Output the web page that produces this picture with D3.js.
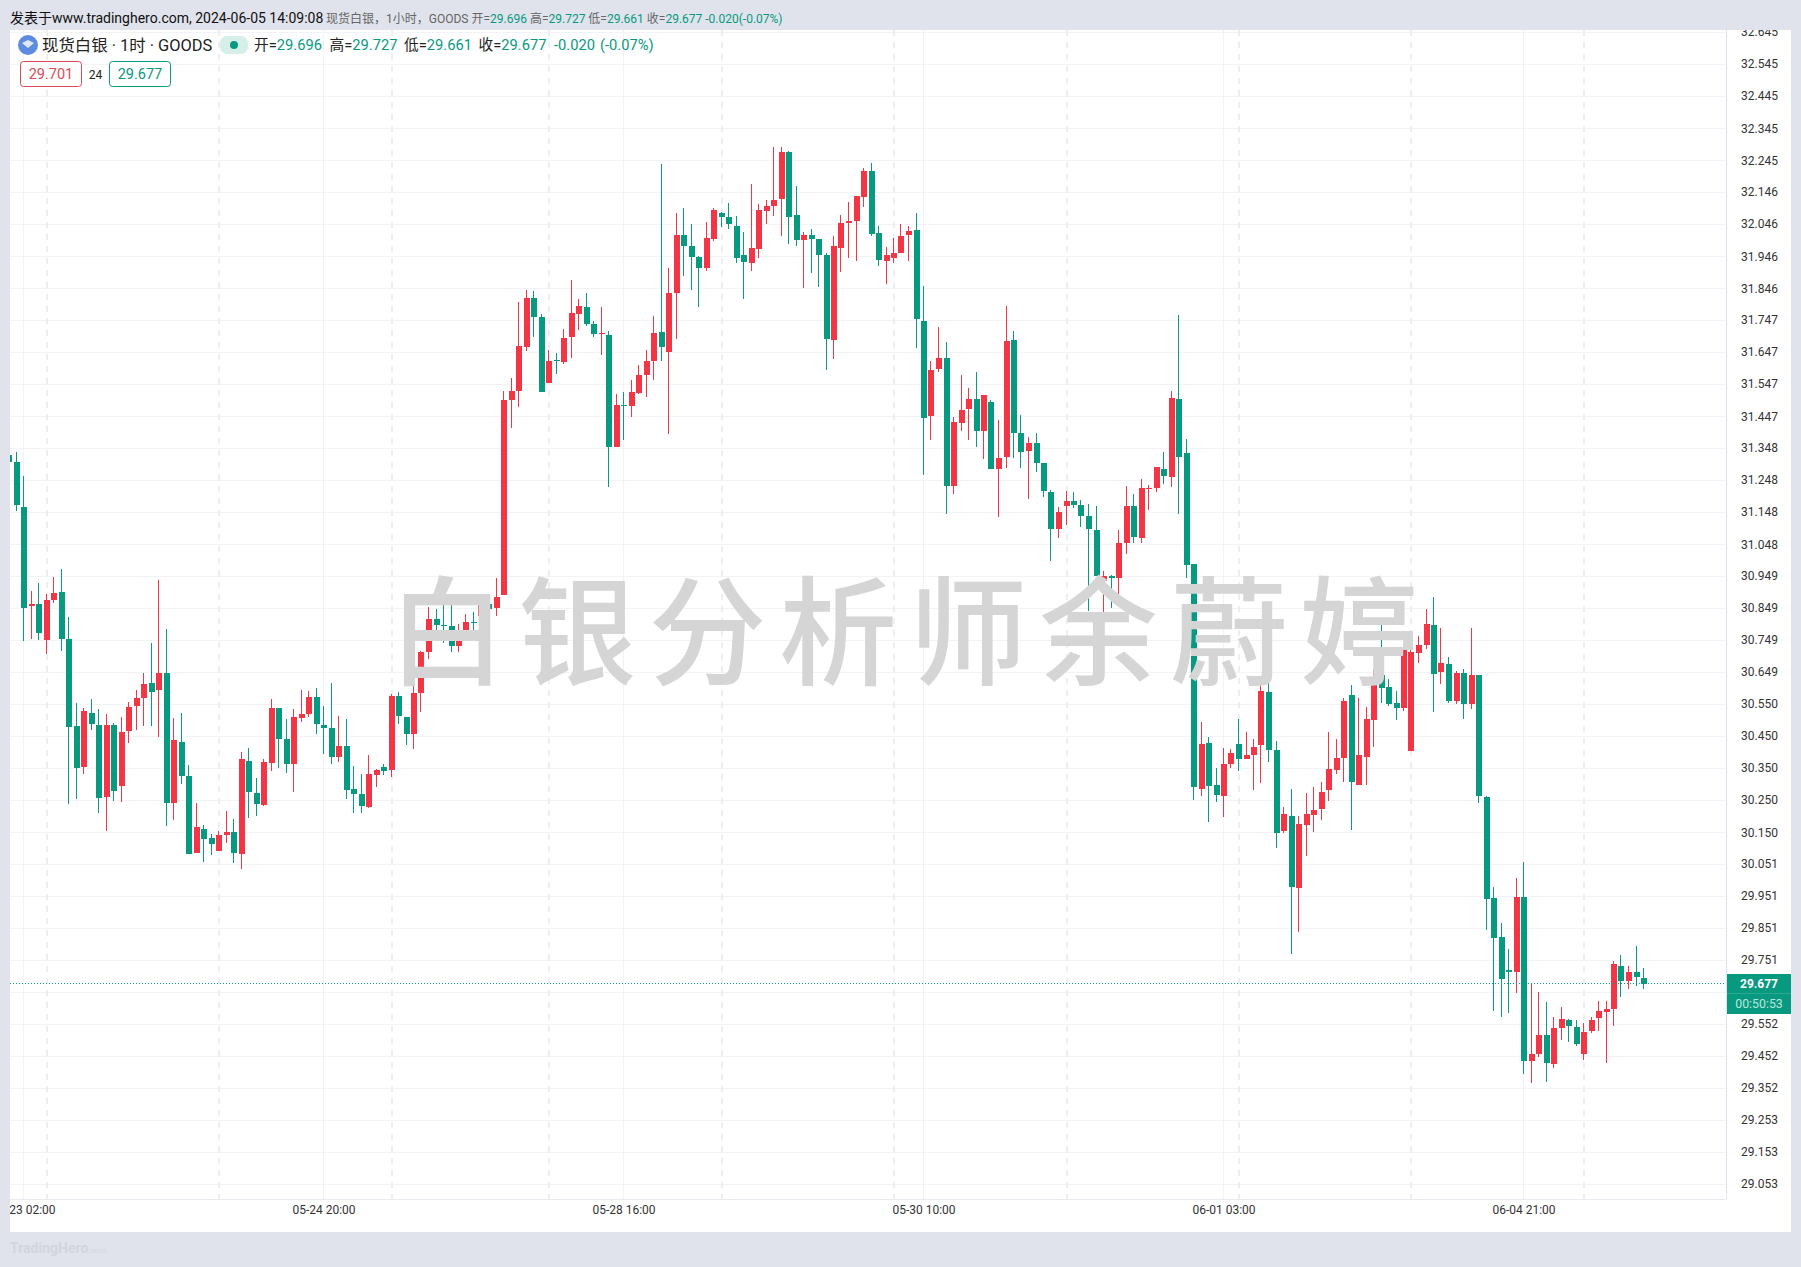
<!DOCTYPE html>
<html><head><meta charset="utf-8">
<script src="https://cdnjs.cloudflare.com/ajax/libs/d3/7.8.5/d3.min.js"></script>
<style>
html,body{margin:0;padding:0;background:#e0e3eb;overflow:hidden}
svg{display:block}
text{font-family:Roboto,"Noto Sans CJK SC",sans-serif}
</style></head><body><div id="c"></div>
<script>
const opens=[31.326,31.304,31.164,30.855,30.862,30.749,30.874,30.899,30.753,30.481,
30.353,30.522,30.484,30.260,30.484,30.294,30.466,30.544,30.569,30.615,
30.594,30.647,30.241,30.431,30.325,30.085,30.160,30.132,30.092,30.141,
30.151,30.082,30.372,30.272,30.235,30.366,30.537,30.441,30.363,30.506,
30.519,30.572,30.484,30.475,30.385,30.419,30.285,30.269,30.229,30.329,
30.353,30.344,30.575,30.509,30.456,30.585,30.713,30.815,30.796,30.793,
30.731,30.772,30.806,30.824,30.862,30.849,30.891,31.498,31.526,31.663,
31.816,31.757,31.551,31.623,31.617,31.695,31.766,31.788,31.735,31.705,
31.701,31.352,31.483,31.479,31.520,31.576,31.620,31.710,31.648,31.832,
32.013,31.978,31.944,31.910,32.000,32.081,32.069,32.041,31.950,31.925,
31.969,32.087,32.103,32.125,32.271,32.075,31.997,32.013,32.000,31.950,
31.685,31.972,32.050,32.056,32.131,32.212,32.019,31.932,31.941,31.956,
32.013,32.028,31.744,31.448,31.595,31.629,31.230,31.426,31.470,31.501,
31.402,31.492,31.283,31.320,31.685,31.395,31.339,31.364,31.302,31.211,
31.096,31.168,31.183,31.171,31.136,31.093,30.934,30.949,30.943,31.052,
31.168,31.068,31.221,31.224,31.283,31.258,31.501,31.333,30.986,30.285,
30.428,30.297,30.263,30.363,30.425,30.378,30.391,30.422,30.587,30.406,
30.154,30.200,29.976,30.172,30.204,30.222,30.282,30.344,30.381,30.578,
30.297,30.384,30.500,30.640,30.603,30.553,30.537,30.403,30.709,30.734,
30.796,30.649,30.674,30.559,30.646,30.550,30.640,30.260,29.945,29.824,
29.721,29.715,29.948,29.437,29.459,29.518,29.428,29.540,29.565,29.543,
29.459,29.531,29.571,29.590,29.599,29.733,29.687,29.715,29.696];
const highs=[31.326,31.335,31.261,30.902,30.926,30.893,30.946,30.971,30.821,30.553,
30.536,30.565,30.534,30.519,30.491,30.509,30.556,30.594,30.647,30.740,
30.937,30.784,30.506,30.522,30.360,30.241,30.173,30.145,30.154,30.216,
30.191,30.400,30.413,30.319,30.378,30.565,30.537,30.503,30.534,30.594,
30.590,30.600,30.544,30.615,30.512,30.503,30.357,30.332,30.391,30.347,
30.363,30.581,30.587,30.509,30.637,30.715,30.853,30.845,30.908,30.864,
30.799,30.831,30.837,30.866,30.884,30.943,31.526,31.567,31.804,31.841,
31.838,31.766,31.654,31.645,31.720,31.872,31.813,31.832,31.744,31.788,
31.713,31.517,31.523,31.561,31.607,31.654,31.760,32.234,31.910,32.081,
32.097,32.047,31.947,32.053,32.097,32.084,32.112,32.072,32.022,32.172,
32.109,32.122,32.287,32.287,32.275,32.165,32.022,32.031,32.000,31.956,
32.010,32.075,32.116,32.134,32.222,32.237,32.041,31.975,32.003,32.047,
32.041,32.081,31.854,31.620,31.726,31.679,31.445,31.576,31.536,31.585,
31.514,31.498,31.436,31.791,31.713,31.451,31.383,31.395,31.302,31.218,
31.165,31.214,31.211,31.186,31.174,31.168,30.965,30.953,31.093,31.230,
31.205,31.252,31.233,31.289,31.336,31.526,31.763,31.377,30.986,30.494,
30.447,30.350,30.412,30.409,30.503,30.462,30.441,30.612,30.628,30.434,
30.229,30.285,30.200,30.272,30.291,30.306,30.462,30.441,30.568,30.609,
30.568,30.540,30.656,30.796,30.628,30.590,30.721,30.740,30.762,30.846,
30.883,30.787,30.696,30.653,30.659,30.787,30.640,30.263,29.980,29.867,
29.786,30.008,30.058,29.680,29.652,29.621,29.574,29.605,29.568,29.565,
29.556,29.574,29.624,29.624,29.749,29.768,29.733,29.796,29.727];
const lows=[31.304,31.150,30.747,30.753,30.749,30.707,30.866,30.716,30.239,30.254,
30.332,30.470,30.211,30.155,30.247,30.244,30.428,30.469,30.481,30.481,
30.447,30.169,30.188,30.300,30.082,30.085,30.057,30.079,30.092,30.116,
30.054,30.035,30.194,30.201,30.232,30.341,30.350,30.335,30.275,30.494,
30.509,30.456,30.394,30.363,30.369,30.254,30.210,30.210,30.226,30.291,
30.329,30.322,30.488,30.422,30.410,30.525,30.690,30.767,30.741,30.713,
30.713,30.762,30.781,30.806,30.822,30.824,30.891,31.411,31.476,31.651,
31.695,31.523,31.551,31.579,31.610,31.629,31.716,31.729,31.695,31.638,
31.227,31.352,31.373,31.445,31.517,31.508,31.561,31.620,31.392,31.688,
31.885,31.841,31.788,31.900,31.994,32.038,32.031,31.925,31.813,31.900,
31.941,32.047,32.072,32.010,31.985,31.978,31.847,31.894,31.850,31.592,
31.626,31.897,31.941,31.932,32.100,32.010,31.916,31.860,31.925,31.956,
31.932,31.660,31.264,31.373,31.585,31.143,31.205,31.402,31.373,31.352,
31.314,31.283,31.133,31.286,31.317,31.286,31.189,31.274,31.196,30.996,
31.068,31.108,31.161,31.102,30.840,30.949,30.772,30.850,30.893,31.018,
31.052,31.052,31.155,31.211,31.236,31.227,31.143,30.943,30.250,30.263,
30.182,30.244,30.197,30.350,30.341,30.378,30.282,30.303,30.369,30.101,
30.147,29.770,29.839,30.076,30.151,30.188,30.247,30.331,30.306,30.157,
30.297,30.297,30.416,30.553,30.543,30.500,30.528,30.403,30.677,30.721,
30.525,30.612,30.553,30.550,30.503,30.534,30.241,29.845,29.593,29.574,
29.587,29.649,29.397,29.369,29.450,29.372,29.415,29.503,29.496,29.484,
29.440,29.524,29.531,29.431,29.546,29.637,29.662,29.671,29.661];
const closes=[31.304,31.171,30.850,30.862,30.772,30.874,30.896,30.753,30.479,30.350,
30.528,30.488,30.257,30.484,30.279,30.463,30.541,30.569,30.612,30.587,
30.647,30.241,30.438,30.325,30.082,30.166,30.129,30.113,30.141,30.151,
30.085,30.378,30.275,30.238,30.369,30.537,30.441,30.363,30.509,30.519,
30.572,30.488,30.475,30.385,30.419,30.282,30.269,30.232,30.332,30.344,
30.341,30.575,30.512,30.456,30.584,30.713,30.815,30.796,30.793,30.731,
30.753,30.806,30.802,30.864,30.846,30.884,31.498,31.526,31.667,31.816,
31.757,31.523,31.620,31.618,31.691,31.769,31.791,31.735,31.704,31.707,
31.352,31.483,31.479,31.523,31.576,31.620,31.707,31.663,31.832,32.013,
31.978,31.944,31.910,32.003,32.091,32.069,32.047,31.941,31.928,31.972,
32.091,32.103,32.122,32.271,32.069,31.997,32.013,32.000,31.950,31.688,
31.978,32.050,32.056,32.134,32.212,32.016,31.935,31.950,31.956,32.010,
32.025,31.751,31.442,31.592,31.629,31.230,31.430,31.467,31.501,31.402,
31.514,31.283,31.317,31.682,31.395,31.336,31.364,31.302,31.214,31.096,
31.149,31.183,31.171,31.136,31.096,30.949,30.949,30.944,31.052,31.168,
31.071,31.224,31.224,31.289,31.261,31.504,31.320,30.984,30.291,30.425,
30.294,30.266,30.363,30.397,30.378,30.391,30.416,30.590,30.406,30.147,
30.207,29.979,30.176,30.207,30.219,30.275,30.347,30.381,30.559,30.306,
30.391,30.503,30.618,30.600,30.550,30.537,30.718,30.712,30.734,30.799,
30.643,30.677,30.559,30.646,30.550,30.640,30.263,29.942,29.821,29.693,
29.715,29.948,29.437,29.459,29.518,29.431,29.540,29.568,29.546,29.490,
29.528,29.565,29.593,29.599,29.740,29.687,29.715,29.699,29.677];
const priceTicks=[32.645,32.545,32.445,32.345,32.245,32.146,32.046,31.946,31.846,31.747,31.647,31.547,31.447,31.348,31.248,31.148,31.048,30.949,30.849,30.749,30.649,30.550,30.450,30.350,30.250,30.150,30.051,29.951,29.851,29.751,29.652,29.552,29.452,29.352,29.253,29.153,29.053];
const hiddenLabel=29.652;
const timeTickIdx=[2,42,82,122,162,202];
const timeTickLabels=["05-23 02:00","05-24 20:00","05-28 16:00","05-30 10:00","06-01 03:00","06-04 21:00"];
const sessionIdx=[5,28,51,72,95,118,141,164,187,210];
const lastPrice=29.677, countdown="00:50:53";
const watermark="白银分析师余蔚婷";
const headLeft="发表于www.tradinghero.com, 2024-06-05 14:09:08";
const headInfo="现货白银，1小时，GOODS";
const ohlcLabels=["开=","高=","低=","收="];
const ohlcVals=["29.696","29.727","29.661","29.677"];
const changeTxt=["-0.020","(-0.07%)"];
const UP="#f23645",DOWN="#089981",GRID="#f2f3f6",TEXT="#333";
const W=1801,H=1267,pL=10,pT=30,pR=1726,pB=1199,wR=1791,wB=1232;
const x=d3.scaleLinear().domain([0,218]).range([9.5,1644.5]);
const y=d3.scaleLinear().domain([32.645,29.053]).range([32,1184]);
const candles=opens.map((o,i)=>({i,o,h:highs[i],l:lows[i],c:closes[i]}));
const svg=d3.select("#c").append("svg").attr("width",W).attr("height",H);
const defs=svg.append("defs");
defs.append("clipPath").attr("id","plot").append("rect").attr("x",pL).attr("y",pT).attr("width",pR-pL).attr("height",pB-pT);
defs.append("clipPath").attr("id","panel").append("rect").attr("x",pL).attr("y",pT).attr("width",wR-pL).attr("height",wB-pT);
svg.append("rect").attr("width",W).attr("height",H).attr("fill","#e0e3eb");
svg.append("rect").attr("x",pL).attr("y",pT).attr("width",wR-pL).attr("height",wB-pT).attr("fill","#fff");
const plot=svg.append("g").attr("clip-path","url(#plot)").attr("shape-rendering","crispEdges");
plot.append("g").selectAll("line").data(priceTicks).join("line")
 .attr("x1",pL).attr("x2",pR).attr("y1",d=>Math.round(y(d))+.5).attr("y2",d=>Math.round(y(d))+.5).attr("stroke",GRID);
plot.append("g").selectAll("line").data(timeTickIdx).join("line")
 .attr("x1",d=>Math.floor(x(d)-1)+.5).attr("x2",d=>Math.floor(x(d)-1)+.5).attr("y1",pT).attr("y2",pB).attr("stroke",GRID);
plot.append("g").selectAll("line").data(sessionIdx).join("line")
 .attr("x1",d=>Math.floor(x(d))).attr("x2",d=>Math.floor(x(d))).attr("y1",pT).attr("y2",pB)
 .attr("stroke","#eceef1").attr("stroke-width",2).attr("stroke-dasharray","6 6");
const cg=plot.append("g").selectAll("g").data(candles).join("g").attr("fill",d=>d.c>=d.o?UP:DOWN);
cg.append("rect").attr("x",d=>Math.floor(x(d.i)-1)).attr("width",1)
 .attr("y",d=>y(d.h)).attr("height",d=>y(d.l)-y(d.h));
cg.append("rect").attr("x",d=>Math.floor(x(d.i)-3)).attr("width",6)
 .attr("y",d=>y(Math.max(d.o,d.c))).attr("height",d=>Math.max(1.5,Math.abs(y(d.o)-y(d.c))));
plot.append("line").attr("x1",pL).attr("x2",pR).attr("y1",Math.round(y(lastPrice))-.5).attr("y2",Math.round(y(lastPrice))-.5)
 .attr("stroke",DOWN).attr("stroke-dasharray","1 2");
// watermark
svg.append("text").attr("x",388).attr("y",676).attr("font-size",118).attr("letter-spacing",12.3)
 .attr("font-weight",500).attr("fill","#d5d5d5").attr("font-family",'"Noto Sans CJK SC"').text(watermark);
// axis frame
svg.append("line").attr("x1",pL).attr("x2",pR).attr("y1",pB+.5).attr("y2",pB+.5).attr("stroke","#e8eaef");
svg.append("line").attr("x1",pR+.5).attr("x2",pR+.5).attr("y1",pT).attr("y2",pB).attr("stroke","#e0e3eb");
// axes
const axY=d3.axisRight(y).tickValues(priceTicks.filter(d=>d!==hiddenLabel)).tickSize(0).tickPadding(0).tickFormat(d3.format(".3f"));
const gy=svg.append("g").attr("clip-path","url(#panel)").append("g").attr("transform",`translate(1741,0)`).call(axY);
gy.select(".domain").remove();
gy.selectAll("text").attr("font-size",12).attr("font-family","Roboto").attr("fill",TEXT);
const axX=d3.axisBottom(d3.scaleLinear().domain(x.domain()).range(x.range().map(v=>v-1))).tickValues(timeTickIdx).tickSize(0).tickPadding(0).tickFormat((d,i)=>timeTickLabels[i]);
const gx=svg.append("g").attr("clip-path","url(#panel)").append("g").attr("transform",`translate(0,1205)`).call(axX);
gx.select(".domain").remove();
gx.selectAll("text").attr("font-size",12).attr("font-family","Roboto").attr("fill",TEXT);
// price tag
const tag=svg.append("g");
tag.append("rect").attr("x",pR+1).attr("y",974).attr("width",wR-pR-1).attr("height",40).attr("fill",DOWN);
tag.append("line").attr("x1",pR+1).attr("x2",wR).attr("y1",993.5).attr("y2",993.5).attr("stroke","#2aa890");
tag.append("text").attr("x",1759).attr("y",988).attr("text-anchor","middle").attr("font-size",12).attr("font-weight",700).attr("fill","#fff").text(d3.format(".3f")(lastPrice));
tag.append("text").attr("x",1759).attr("y",1008).attr("text-anchor","middle").attr("font-size",12.3).attr("fill","#b9e6dc").text(countdown);
// top strip
const h=svg.append("g");
h.append("text").attr("x",10).attr("y",23).attr("font-size",14).attr("fill","#111").text(headLeft);
const t2=h.append("text").attr("x",326).attr("y",23).attr("font-size",12).attr("fill","#666");
t2.append("tspan").text(headInfo+" ");
ohlcLabels.forEach((l,i)=>{t2.append("tspan").text(l);t2.append("tspan").attr("fill",DOWN).text(ohlcVals[i]+" ");});
t2.append("tspan").attr("fill",DOWN).text(changeTxt.join(""));
// legend
const lg=svg.append("g");
lg.append("circle").attr("cx",28).attr("cy",45).attr("r",10).attr("fill","#5d8be0");
lg.append("path").attr("d","M22 43l6-3 6 3-6 5z").attr("fill","#dfe8fa");
lg.append("text").attr("x",42).attr("y",51).attr("font-size",16.4).attr("fill","#222").text("现货白银 · 1时 · GOODS");
lg.append("rect").attr("x",220).attr("y",36).attr("width",28).attr("height",18).attr("rx",7).attr("fill","#d6efe9");
lg.append("circle").attr("cx",234).attr("cy",45).attr("r",4).attr("fill",DOWN);
const ox=[254,329.5,404,478.5];
ohlcLabels.forEach((l,i)=>{
 const t=lg.append("text").attr("x",ox[i]).attr("y",50).attr("font-size",14.7).attr("fill","#222");
 t.append("tspan").text(l);t.append("tspan").attr("fill",DOWN).text(ohlcVals[i]);
});
lg.append("text").attr("x",554).attr("y",50).attr("font-size",14.7).attr("fill",DOWN).text(changeTxt[0]);
lg.append("text").attr("x",600).attr("y",50).attr("font-size",14.7).attr("fill",DOWN).text(changeTxt[1]);
[[20.5,"29.701","#dc4a58"],[109.5,"29.677",DOWN]].forEach(([bx,s,col])=>{
 lg.append("rect").attr("x",bx).attr("y",61.5).attr("width",61).attr("height",25).attr("rx",3).attr("fill","#fff").attr("stroke",col);
 lg.append("text").attr("x",bx+30.5).attr("y",79).attr("text-anchor","middle").attr("font-size",14.5).attr("fill",col).text(s);
});
lg.append("text").attr("x",95.5).attr("y",78.5).attr("text-anchor","middle").attr("font-size",12).attr("fill","#222").text("24");
// footer
const f=svg.append("text").attr("x",10).attr("y",1253).attr("fill","#d2d5de").attr("font-weight",700).attr("font-size",14).text("TradingHero");
f.append("tspan").attr("font-size",8).attr("font-weight",400).text(".com");
</script></body></html>
